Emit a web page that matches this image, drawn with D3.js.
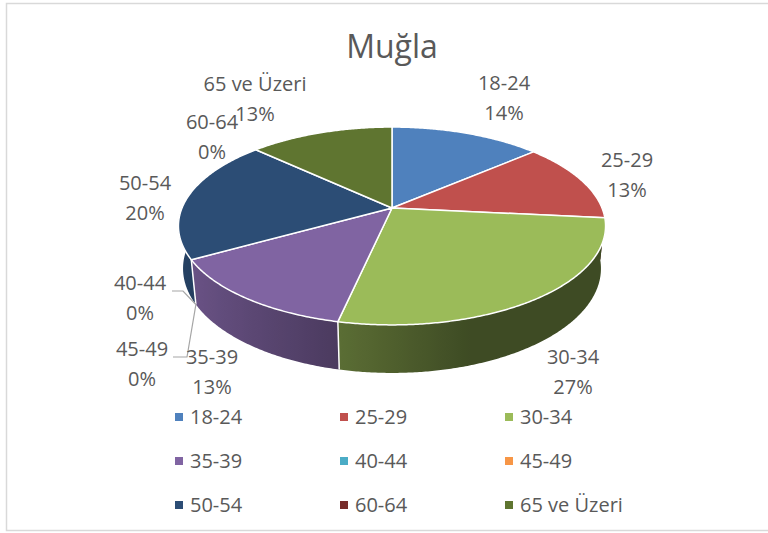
<!DOCTYPE html>
<html>
<head>
<meta charset="utf-8">
<script src="https://cdn.jsdelivr.net/npm/d3@7"></script>
<style>
  body { margin: 0; background: #fff; }
  text { font-family: "Open Sans", sans-serif; fill: #595959; }
</style>
</head>
<body>
<div id="chart"></div>
<script>
(() => {
    // data (share of respondents, %)
    const categories = ["18-24", "25-29", "30-34", "35-39", "40-44", "45-49", "50-54", "60-64", "65 ve Üzeri"];
    const values = [13.6, 13.0, 26.8, 13.4, 0, 0, 20.2, 0, 13.0];
    const colors = ["#4f81bd", "#c0504d", "#9bbb59", "#8064a2", "#4bacc6", "#f79646", "#2c4d75", "#772c2a", "#5f7530"];

    // layout (label centres, leader lines for the zero slices)
    const labelPos = [[504, 98], [627, 175], [573, 372], [212, 372], [140, 298], [142, 364], [145, 198], [212, 137], [255, 99]];
    const leaders = { 4: [[172, 291], [183, 291]], 5: [[173, 357], [187, 357]] };

    const width = 768, height = 533;
    const cx = 392, cy = 208;
    // perspective params
    const tilt = 0.473, dist = 4.9, focal = 1029, thick = 0.229;
    const sT = Math.sin(tilt), cT = Math.cos(tilt);

    function proj(a, r, z) {
        const X = r * Math.sin(a), Y = r * Math.cos(a);
        const up = Y * sT + z * cT;
        const depth = dist + Y * cT - z * sT;
        return [cx + focal * X / depth, cy - focal * up / depth];
    }
    const shade = a => Math.max(0.40, 0.51 - 0.36 * Math.sin(a));

    const color = d3.scaleOrdinal().domain(categories).range(colors);
    const pct = d3.format(".0f");

    const svg = d3.select("#chart").append("svg")
        .attr("width", width)
        .attr("height", height);
    const defs = svg.append("defs");

    // frame
    svg.append("rect")
        .attr("x", 6.5).attr("y", 3.5)
        .attr("width", 800).attr("height", 527)
        .attr("fill", "#fff")
        .attr("stroke", "#d9d9d9")
        .attr("stroke-width", 1.5);

    svg.append("text")
        .attr("x", cx).attr("y", 58)
        .attr("text-anchor", "middle")
        .style("font-size", "32px")
        .text("Muğla");

    const pie = d3.pie().sort(null).value(d => d.value);
    const arcs = pie(categories.map((c, i) => ({ name: c, value: values[i], i: i })));
    const total = d3.sum(values);

    const line = d3.line();
    const step = Math.PI / 360;

    // side walls (front half only), each with a horizontal shading gradient
    const walls = [];
    arcs.forEach(d => {
        const a0 = Math.max(d.startAngle, Math.PI / 2);
        const a1 = Math.min(d.endAngle, Math.PI * 1.5);
        if (a1 <= a0) return;
        const n = Math.max(2, Math.ceil((a1 - a0) / step));
        const angs = d3.range(n + 1).map(k => a0 + (a1 - a0) * k / n);
        const top = angs.map(a => proj(a, 1, 0));
        const bot = angs.map(a => proj(a, 1, -thick));
        walls.push({ d: d, angs: angs, pts: top.concat(bot.reverse()), xs: top.map(p => p[0]) });
    });

    walls.forEach((w, j) => {
        const xMin = d3.min(w.xs), xMax = d3.max(w.xs);
        const base = d3.rgb(color(w.d.data.name));
        const g = defs.append("linearGradient")
            .attr("id", "wall" + j)
            .attr("gradientUnits", "userSpaceOnUse")
            .attr("x1", xMin).attr("x2", xMax)
            .attr("y1", 0).attr("y2", 0);
        const stops = w.angs.filter((a, k) => k % 4 === 0 || k === w.angs.length - 1)
            .map(a => ({ x: proj(a, 1, 0)[0], s: shade(a) }))
            .sort((p, q) => p.x - q.x);
        g.selectAll("stop")
            .data(stops)
            .join("stop")
            .attr("offset", p => (p.x - xMin) / (xMax - xMin))
            .attr("stop-color", p => d3.rgb(base.r * p.s, base.g * p.s, base.b * p.s).formatHex());
    });

    svg.append("g").selectAll("path")
        .data(walls)
        .join("path")
        .attr("d", w => line(w.pts) + "Z")
        .attr("fill", (w, j) => `url(#wall${j})`);

    // white edges between walls
    const edges = arcs.filter(d => d.endAngle > d.startAngle && Math.cos(d.startAngle) < -0.15);
    svg.append("g").selectAll("line")
        .data(edges)
        .join("line")
        .attr("x1", d => proj(d.startAngle, 1, 0)[0])
        .attr("y1", d => proj(d.startAngle, 1, 0)[1])
        .attr("x2", d => proj(d.startAngle, 1, -thick)[0])
        .attr("y2", d => proj(d.startAngle, 1, -thick)[1])
        .attr("stroke", "#fff")
        .attr("stroke-width", 1.5);

    // top faces
    function topPath(d) {
        const pts = [[cx, cy]];
        const n = Math.max(2, Math.ceil((d.endAngle - d.startAngle) / step));
        for (let k = 0; k <= n; k++) {
            const a = d.startAngle + (d.endAngle - d.startAngle) * k / n;
            pts.push(proj(a, 1, 0));
        }
        return line(pts) + "Z";
    }
    svg.append("g").selectAll("path")
        .data(arcs.filter(d => d.endAngle > d.startAngle))
        .join("path")
        .attr("d", topPath)
        .attr("fill", d => color(d.data.name))
        .attr("stroke", "#fff")
        .attr("stroke-width", 1.5)
        .attr("stroke-linejoin", "round");

    // leader lines for the zero slices
    Object.keys(leaders).forEach(k => {
        const d = arcs[+k];
        const end = proj(d.startAngle, 1, -thick);
        svg.append("path")
            .attr("d", line(leaders[k].concat([end])))
            .attr("fill", "none")
            .attr("stroke", "#a6a6a6")
            .attr("stroke-width", 1.2);
    });

    // data labels
    const lab = svg.append("g").selectAll("g")
        .data(arcs)
        .join("g")
        .attr("transform", d => `translate(${labelPos[d.data.i][0]},${labelPos[d.data.i][1]})`);
    lab.append("text")
        .attr("text-anchor", "middle")
        .attr("y", -8)
        .style("font-size", "20px")
        .text(d => d.data.name);
    lab.append("text")
        .attr("text-anchor", "middle")
        .attr("y", 22)
        .style("font-size", "20px")
        .text(d => pct(d.data.value / total * 100) + "%");

    // legend
    const legX = [175, 340, 505], legY = [417, 461, 505];
    const leg = svg.append("g").selectAll("g")
        .data(categories)
        .join("g")
        .attr("transform", (d, i) => `translate(${legX[i % 3]},${legY[Math.floor(i / 3)]})`);
    leg.append("rect")
        .attr("x", 0).attr("y", -4)
        .attr("width", 8).attr("height", 8)
        .attr("fill", d => color(d));
    leg.append("text")
        .attr("x", 15).attr("y", 7)
        .style("font-size", "20px")
        .text(d => d);
})()
</script>
</body>
</html>
